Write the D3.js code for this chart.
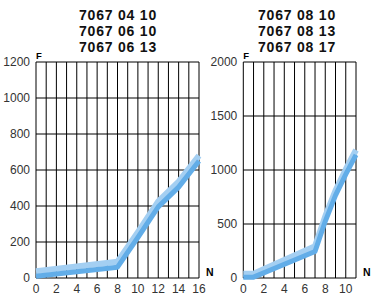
<!DOCTYPE html>
<html>
<head>
<meta charset="utf-8">
<script src="https://cdn.jsdelivr.net/npm/d3@7"></script>
<style>
  body { margin: 0; background: #fff; }
  svg { display: block; font-family: "Liberation Sans", Arial, sans-serif; }
</style>
</head>
<body>
<svg id="chart" width="371" height="295"></svg>
<script>
// left panel: models 7067 04 10 / 06 10 / 06 13
const leftTitle = ['7067 04 10', '7067 06 10', '7067 06 13'];
const leftYTicks = [0, 200, 400, 600, 800, 1000, 1200];
const leftXTicks = [0, 2, 4, 6, 8, 10, 12, 14, 16];
const leftUpper = [[0, 38], [8, 90], [10, 255], [12, 425], [14, 535], [16, 680]];
const leftLower = [[0, 10], [8, 60], [10, 225], [12, 395], [14, 505], [16, 650]];

// right panel: models 7067 08 10 / 08 13 / 08 17
const rightTitle = ['7067 08 10', '7067 08 13', '7067 08 17'];
const rightYTicks = [0, 500, 1000, 1500, 2000];
const rightXTicks = [0, 2, 4, 6, 8, 10];
const rightUpper = [[0, 40], [1, 40], [7, 295], [8, 570], [9, 810], [10, 1005], [11, 1185]];
const rightLower = [[0, 8], [1, 8], [7, 245], [8, 525], [9, 765], [10, 960], [11, 1140]];

const svg = d3.select('#chart');

function drawPanel(opts) {
  const x = d3.scaleLinear().domain([0, opts.xMax]).range([opts.x0, opts.x1]);
  const y = d3.scaleLinear().domain([0, opts.yMax]).range([278, 62]);
  const g = svg.append('g');

  // title
  g.append('text')
    .attr('x', opts.titleX)
    .attr('text-anchor', 'middle')
    .attr('font-size', 14)
    .attr('font-weight', 'bold')
    .attr('letter-spacing', 0.8)
    .attr('fill', '#111')
    .selectAll('tspan')
    .data(opts.title)
    .join('tspan')
      .attr('x', opts.titleX)
      .attr('y', (d, i) => 19.5 + i * 16.3)
      .text(d => d);

  // vertical grid, one line per unit
  g.append('g')
    .selectAll('line')
    .data(d3.range(0, opts.xMax + 1))
    .join('line')
      .attr('x1', d => x(d)).attr('x2', d => x(d))
      .attr('y1', y(0)).attr('y2', y(opts.yMax))
      .attr('stroke', '#000').attr('stroke-width', 1);

  // horizontal grid
  g.append('g')
    .selectAll('line')
    .data(opts.yTicks)
    .join('line')
      .attr('x1', x(0)).attr('x2', x(opts.xMax))
      .attr('y1', d => y(d)).attr('y2', d => y(d))
      .attr('stroke', '#000').attr('stroke-width', 1);

  // y tick labels
  g.append('g')
    .selectAll('text')
    .data(opts.yTicks)
    .join('text')
      .attr('x', x(0) - 6)
      .attr('y', d => y(d) + 4)
      .attr('text-anchor', 'end')
      .attr('font-size', 12)
      .attr('fill', '#333')
      .text(d => d);

  // x tick labels
  g.append('g')
    .selectAll('text')
    .data(opts.xTicks)
    .join('text')
      .attr('x', d => x(d))
      .attr('y', 293)
      .attr('text-anchor', 'middle')
      .attr('font-size', 12)
      .attr('fill', '#333')
      .text(d => d);

  // axis letters
  g.append('text')
    .attr('x', x(0)).attr('y', 58.5)
    .attr('font-size', 9.5).attr('font-weight', 'bold')
    .text('F');
  g.append('text')
    .attr('x', x(opts.xMax) + 7).attr('y', 276)
    .attr('font-size', 10.5).attr('font-weight', 'bold')
    .text('N');

  const line = d3.line().x(d => x(d[0])).y(d => y(d[1]));
  g.append('path')
    .attr('d', line(opts.upper))
    .attr('fill', 'none')
    .attr('stroke', '#a4cff2')
    .attr('stroke-width', 6)
    .attr('stroke-linejoin', 'round');
  g.append('path')
    .attr('d', line(opts.lower))
    .attr('fill', 'none')
    .attr('stroke', '#62ade8')
    .attr('stroke-width', 5)
    .attr('stroke-linejoin', 'round');
}

drawPanel({
  title: leftTitle, titleX: 118, x0: 36, x1: 199, xMax: 16, yMax: 1200,
  yTicks: leftYTicks, xTicks: leftXTicks, upper: leftUpper, lower: leftLower
});
drawPanel({
  title: rightTitle, titleX: 297, x0: 243.3, x1: 356, xMax: 11, yMax: 2000,
  yTicks: rightYTicks, xTicks: rightXTicks, upper: rightUpper, lower: rightLower
});
</script>
</body>
</html>
